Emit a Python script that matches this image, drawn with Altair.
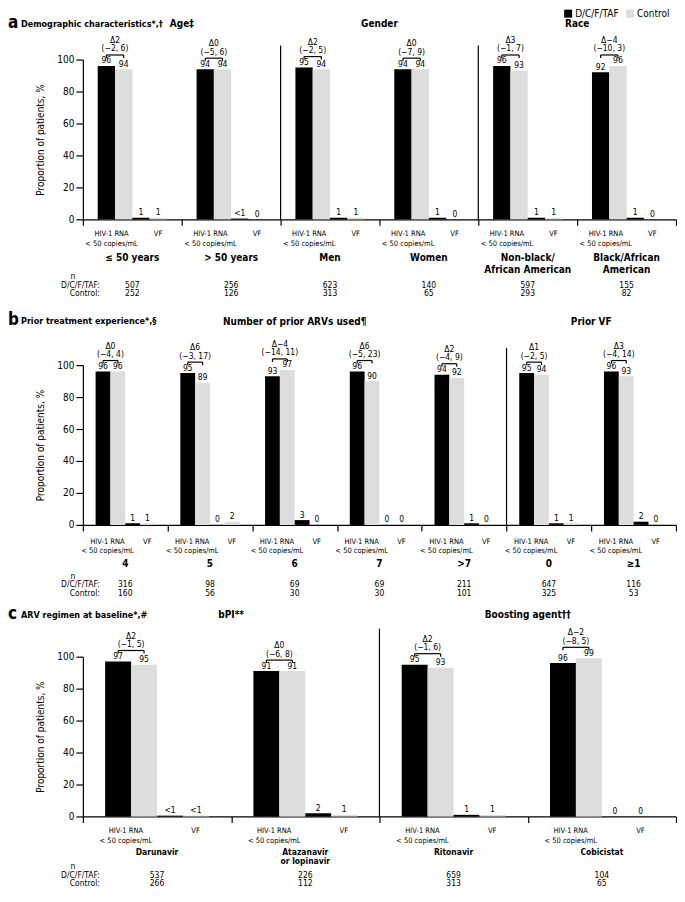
import altair as alt
import pandas as pd

FONT = "Liberation Sans Narrow, Arial Narrow, DejaVu Sans Condensed, sans-serif"
SERIES = ["D/C/F/TAF", "Control"]
COLORS = ["#000000", "#dddddd"]

# ---------------- Panel a ----------------
a_groups = ["≤ 50 years", "> 50 years", "Men", "Women", "Non-black/\nAfrican American", "Black/African\nAmerican"]
a_hiv_dcft = [96, 94, 95, 94, 96, 92]
a_hiv_ctrl = [94, 94, 94, 94, 93, 96]
a_vf_dcft = [1, 0.5, 1, 1, 1, 1]
a_vf_ctrl = [1, 0, 1, 0, 1, 0]
a_vf_dcft_lbl = ["1", "<1", "1", "1", "1", "1"]
a_vf_ctrl_lbl = ["1", "0", "1", "0", "1", "0"]
a_delta = ["Δ2", "Δ0", "Δ2", "Δ0", "Δ3", "Δ−4"]
a_ci = ["(−2, 6)", "(−5, 6)", "(−2, 5)", "(−7, 9)", "(−1, 7)", "(−10, 3)"]
a_n_dcft = [507, 256, 623, 140, 597, 155]
a_n_ctrl = [252, 126, 313, 65, 293, 82]
a_headers = ["Age‡", "Gender", "Race"]
a_header_spans = [(0, 2), (2, 4), (4, 6)]

# ---------------- Panel b ----------------
b_groups = ["4", "5", "6", "7", ">7", "0", "≥1"]
b_hiv_dcft = [96, 95, 93, 96, 94, 95, 96]
b_hiv_ctrl = [96, 89, 97, 90, 92, 94, 93]
b_vf_dcft = [1, 0, 3, 0, 1, 1, 2]
b_vf_ctrl = [1, 2, 0, 0, 0, 1, 0]
b_vf_dcft_lbl = ["1", "0", "3", "0", "1", "1", "2"]
b_vf_ctrl_lbl = ["1", "2", "0", "0", "0", "1", "0"]
b_delta = ["Δ0", "Δ6", "Δ−4", "Δ6", "Δ2", "Δ1", "Δ3"]
b_ci = ["(−4, 4)", "(−3, 17)", "(−14, 11)", "(−5, 23)", "(−4, 9)", "(−2, 5)", "(−4, 14)"]
b_n_dcft = [316, 98, 69, 69, 211, 647, 116]
b_n_ctrl = [160, 56, 30, 30, 101, 325, 53]
b_headers = ["Number of prior ARVs used¶", "Prior VF"]
b_header_spans = [(0, 5), (5, 7)]

# ---------------- Panel c ----------------
c_groups = ["Darunavir", "Atazanavir\nor lopinavir", "Ritonavir", "Cobicistat"]
c_hiv_dcft = [97, 91, 95, 96]
c_hiv_ctrl = [95, 91, 93, 99]
c_vf_dcft = [0.5, 2, 1, 0]
c_vf_ctrl = [0.5, 1, 1, 0]
c_vf_dcft_lbl = ["<1", "2", "1", "0"]
c_vf_ctrl_lbl = ["<1", "1", "1", "0"]
c_delta = ["Δ2", "Δ0", "Δ2", "Δ−2"]
c_ci = ["(−1, 5)", "(−6, 8)", "(−1, 6)", "(−8, 5)"]
c_n_dcft = [537, 226, 659, 104]
c_n_ctrl = [266, 112, 313, 65]
c_headers = ["bPI**", "Boosting agent††"]
c_header_spans = [(0, 2), (2, 4)]

W, HP = 594, 160   # plot width, height of the 0-100 axis
PAD = 0.15   # outer gap inside each group (fraction of group)
BW = 0.175   # bar width (fraction of group)
CSCALE = alt.Scale(domain=SERIES, range=COLORS)


def panel(letter, title, groups, hd, hc, vd, vc, vdl, vcl, delta, ci, nd, nc,
          headers, spans, geo, legend=False):
    N = len(groups)
    ext = geo.get("ext", 0)
    H = HP + ext
    xs = alt.Scale(domain=[0, N], nice=False, zero=False)
    ys = alt.Scale(domain=[0, 100], nice=False, range=[H, ext])
    xax = alt.Axis(values=list(range(N + 1)), labels=False, tickSize=6, title=None, grid=False,
                   domainWidth=1.2, tickWidth=1.2)
    yax = alt.Axis(values=[0, 20, 40, 60, 80, 100], title="Proportion of patients, %", grid=False,
                   tickSize=7, labelPadding=2, titlePadding=11, labelFontSize=10, titleFontSize=10,
                   titleFontWeight="normal", domainWidth=1.2, tickWidth=1.2)

    def X(f):
        return alt.X(f, scale=xs, axis=xax)

    def Y(f):
        return alt.Y(f, scale=ys, axis=yax)

    rows = []
    for i in range(N):
        items = [(hd[i], str(hd[i]), SERIES[0]), (hc[i], str(hc[i]), SERIES[1]),
                 (vd[i], vdl[i], SERIES[0]), (vc[i], vcl[i], SERIES[1])]
        for k, (val, lbl, ser) in enumerate(items):
            x0 = i + PAD + k * BW
            rows.append(dict(x0=x0, x1=x0 + BW, xm=x0 + BW / 2, value=val, base=0,
                             label=lbl, series=ser))
    bars_df = pd.DataFrame(rows)
    color = alt.Color("series:N", scale=CSCALE, legend=None)

    bars = alt.Chart(bars_df).mark_bar().encode(
        x=X("x0:Q"), x2="x1:Q", y=Y("value:Q"), y2="base:Q", color=color)
    vals = alt.Chart(bars_df).mark_text(baseline="bottom", dy=-0.5, fontSize=8.5).encode(
        x=X("xm:Q"), y=Y("value:Q"), text="label:N")

    dd = pd.DataFrame(dict(
        xc=[i + PAD + BW for i in range(N)],
        xb0=[i + PAD + BW / 2 for i in range(N)],
        xb1=[i + PAD + 1.5 * BW for i in range(N)],
        top=[max(a, b) for a, b in zip(hd, hc)],
        delta=delta, ci=ci))
    dtext = alt.Chart(dd).mark_text(baseline="middle", dy=-26, fontSize=8.5).encode(
        x=X("xc:Q"), y=Y("top:Q"), text="delta:N")
    citext = alt.Chart(dd).mark_text(baseline="middle", dy=-17.5, fontSize=8.5).encode(
        x=X("xc:Q"), y=Y("top:Q"), text="ci:N")
    br_h = alt.Chart(dd).mark_rule(yOffset=-11, strokeWidth=1.2, color="black").encode(
        x=X("xb0:Q"), x2="xb1:Q", y=Y("top:Q"))
    br_l = alt.Chart(dd).mark_rule(yOffset=-11, y2Offset=-8, strokeWidth=1.2, color="black").encode(
        x=X("xb0:Q"), y=Y("top:Q"), y2="top:Q")
    br_r = alt.Chart(dd).mark_rule(yOffset=-11, y2Offset=-8, strokeWidth=1.2, color="black").encode(
        x=X("xb1:Q"), y=Y("top:Q"), y2="top:Q")

    # category labels under the axis
    cat_df = pd.DataFrame(dict(
        x=[i + 0.29 for i in range(N)] + [i + 0.76 for i in range(N)],
        t=["HIV-1 RNA\n< 50 copies/mL"] * N + ["VF"] * N))
    cats = alt.Chart(cat_df).mark_text(baseline="middle", lineBreak="\n", lineHeight=9.5,
                                       fontSize=7.5).encode(
        x=X("x:Q"), y=alt.value(H + geo["cat"]), text="t:N")

    gdf = pd.DataFrame(dict(x=[i + 0.5 for i in range(N)], g=groups,
                            nd=[str(v) for v in nd], nc=[str(v) for v in nc]))
    gnames = alt.Chart(gdf).mark_text(baseline="middle", lineBreak="\n", lineHeight=geo.get("glh", 11.5),
                                      fontSize=geo.get("gfs", 10), fontWeight="bold").encode(
        x=X("x:Q"), y=alt.value(H + geo["name"]), text="g:N")
    n1 = alt.Chart(gdf).mark_text(baseline="middle", fontSize=8.5).encode(
        x=X("x:Q"), y=alt.value(H + geo["n"] + 8.5), text="nd:N")
    n2 = alt.Chart(gdf).mark_text(baseline="middle", fontSize=8.5).encode(
        x=X("x:Q"), y=alt.value(H + geo["n"] + 17), text="nc:N")

    rl1 = alt.Chart(pd.DataFrame(dict(t=["n"]))).mark_text(baseline="middle", fontSize=8.5).encode(
        x=alt.value(-10), y=alt.value(H + geo["n"]), text="t:N")
    rl2 = alt.Chart(pd.DataFrame(dict(t=["D/C/F/TAF:"]))).mark_text(
        baseline="middle", align="right", fontSize=8.5).encode(
        x=alt.value(17), y=alt.value(H + geo["n"] + 8.5), text="t:N")
    rl3 = alt.Chart(pd.DataFrame(dict(t=["Control:"]))).mark_text(
        baseline="middle", align="right", fontSize=8.5).encode(
        x=alt.value(17), y=alt.value(H + geo["n"] + 17), text="t:N")

    hdf = pd.DataFrame(dict(x=[(s + e) / 2 for s, e in spans], h=headers))
    hdrs = alt.Chart(hdf).mark_text(baseline="middle", fontSize=10, fontWeight="bold").encode(
        x=X("x:Q"), y=alt.value(ext + geo["hdr"]), text="h:N")
    div_df = pd.DataFrame(dict(x=[s for s, e in spans if s > 0]))
    divs = alt.Chart(div_df).mark_rule(color="black", strokeWidth=1.2).encode(
        x=X("x:Q"), y=alt.value(ext + geo["div"]), y2=alt.value(H))

    tl = alt.Chart(pd.DataFrame(dict(t=[letter]))).mark_text(
        baseline="middle", align="left", fontSize=17, fontWeight="bold").encode(
        x=alt.value(-75), y=alt.value(ext + geo["title"] - 1), text="t:N")
    tt = alt.Chart(pd.DataFrame(dict(t=[title]))).mark_text(
        baseline="middle", align="left", fontSize=9, fontWeight="bold").encode(
        x=alt.value(-62), y=alt.value(ext + geo["title"]), text="t:N")

    layers = [bars, vals, dtext, citext, br_h, br_l, br_r, cats, gnames, n1, n2,
              rl1, rl2, rl3, hdrs, divs, tl, tt]

    if legend:
        # legend key drawn with the same colour scale as the bars
        for s, sx in zip(SERIES, [486, 548]):
            ldf = pd.DataFrame(dict(series=[s]))
            layers.append(alt.Chart(ldf).mark_square(size=64, opacity=1).encode(
                x=alt.value(sx), y=alt.value(-46), color=color))
            layers.append(alt.Chart(ldf).mark_text(align="left", baseline="middle", fontSize=10).encode(
                x=alt.value(sx + 7), y=alt.value(-46), text="series:N"))

    return alt.layer(*layers).properties(width=W, height=H)


pa = panel("a", "Demographic characteristics*,†", a_groups, a_hiv_dcft, a_hiv_ctrl, a_vf_dcft, a_vf_ctrl,
           a_vf_dcft_lbl, a_vf_ctrl_lbl, a_delta, a_ci, a_n_dcft, a_n_ctrl, a_headers, a_header_spans,
           dict(title=-36, hdr=-36, div=-14, cat=15, name=39, n=57), legend=True)
pb = panel("b", "Prior treatment experience*,§", b_groups, b_hiv_dcft, b_hiv_ctrl, b_vf_dcft, b_vf_ctrl,
           b_vf_dcft_lbl, b_vf_ctrl_lbl, b_delta, b_ci, b_n_dcft, b_n_ctrl, b_headers, b_header_spans,
           dict(ext=14, title=-44, hdr=-43, div=-17, cat=17, name=39, n=51))
pc = panel("c", "ARV regimen at baseline*,#", c_groups, c_hiv_dcft, c_hiv_ctrl, c_vf_dcft, c_vf_ctrl,
           c_vf_dcft_lbl, c_vf_ctrl_lbl, c_delta, c_ci, c_n_dcft, c_n_ctrl, c_headers, c_header_spans,
           dict(title=-42, hdr=-42, div=-28, cat=15, name=36, n=50, gfs=8.5, glh=9))

chart = alt.vconcat(pa, pb, pc, spacing=132, bounds="flush").properties(
    padding=0
).configure(font=FONT).configure_view(stroke=None).configure_axis(
    domainColor="black", tickColor="black", labelColor="black", titleColor="black",
    labelFont=FONT, titleFont=FONT
).configure_text(font=FONT, color="black")

chart.save("out.html", embed_options={"renderer": "svg", "actions": False})
